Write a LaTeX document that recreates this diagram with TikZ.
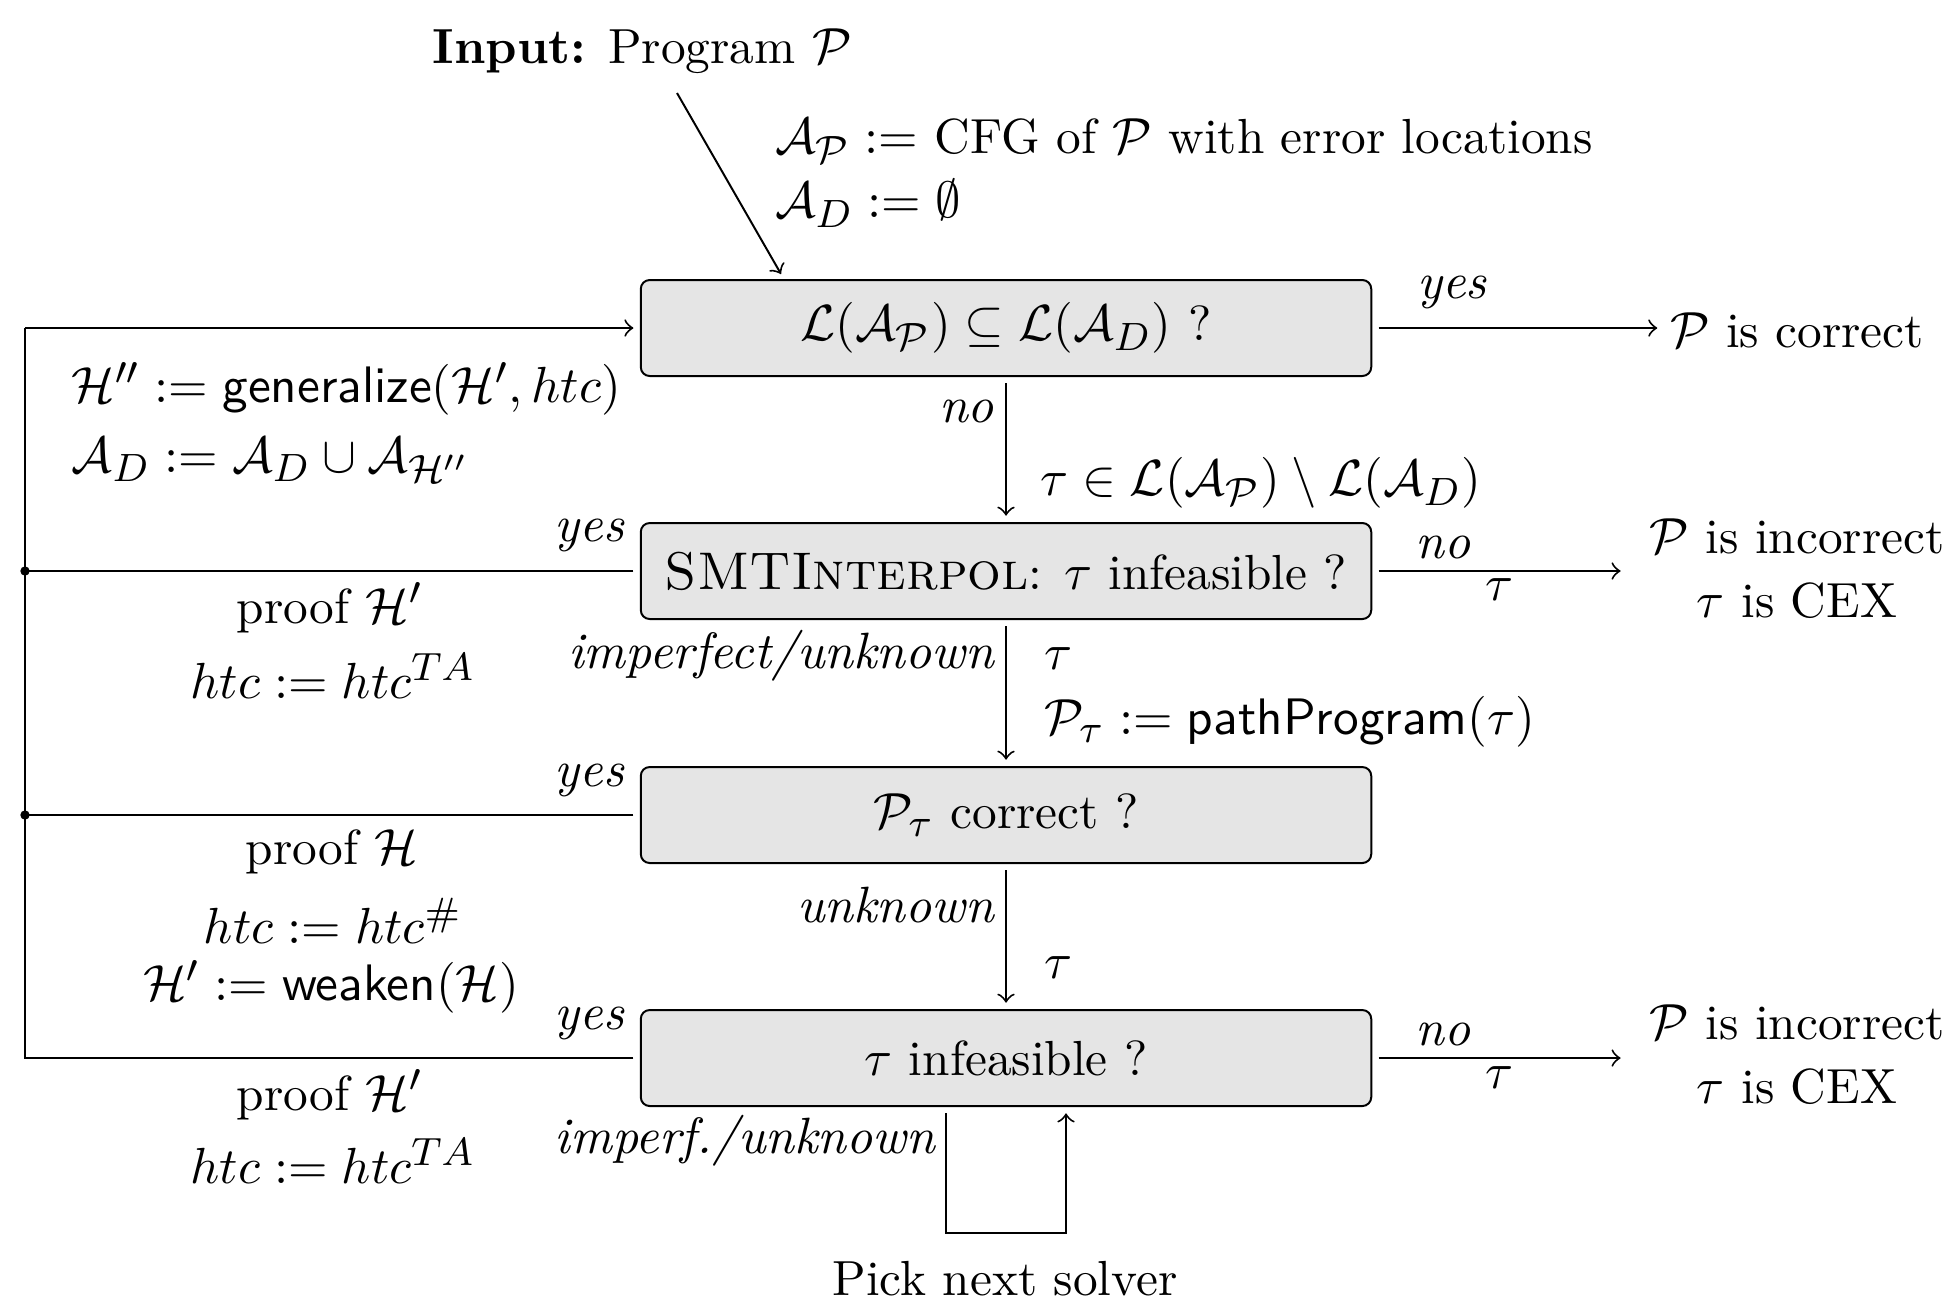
\RequirePackage{fix-cm}
\documentclass[tikz,border=0pt]{standalone}
\DeclareMathSizes{10}{10.3}{8}{6}
\newcommand{\sfop}[1]{\textsf{\fontsize{10.4}{13}\selectfont #1}}
\newcommand{\lbl}[1]{{\fontsize{10.35}{13}\selectfont\itshape #1}}
\newcommand{\scname}[1]{{\fontsize{10.75}{13}\selectfont\scshape #1}}
\begin{document}
\begin{tikzpicture}[x=0.00712cm,y=-0.00712cm,
  every node/.style={font=\fontsize{10}{13}\selectfont, inner sep=0pt},
  box/.style={draw, fill=gray!20, rounded corners=1.8pt, minimum width=5.205cm, minimum height=0.684cm, outer sep=1.5pt},
  line width=0.4pt, >=to]
\useasboundingbox (0,0) rectangle (1951,1308);
% boxes
\node[box] (b1) at (1006,328) {$\mathcal{L}(\mathcal{A}_{\mathcal{P}}) \subseteq \mathcal{L}(\mathcal{A}_D)$ ?};
\node[box] (b2) at (1006,571) {\scname{SMTInterpol}: $\tau$ infeasible ?};
\node[box] (b3) at (1006,815) {$\mathcal{P}_\tau$ correct ?};
\node[box] (b4) at (1006,1058) {$\tau$ infeasible ?};
% input
\node (in) at (642,51) {\textbf{Input:} Program $\mathcal{P}$};
\coordinate (in1) at (677,93);
\coordinate (in2) at (781,274);
\draw[->] (in1) -- (in2);
\node[anchor=west, align=left] (init) at (774,173) {$\mathcal{A}_{\mathcal{P}} :=$ CFG of $\mathcal{P}$ with error locations\\ $\mathcal{A}_D := \emptyset$};
% right outcomes
\node[inner xsep=0.085cm] (corr) at (1797,330) {$\mathcal{P}$ is correct};
\node[align=center, inner xsep=0.2cm] (inc1) at (1797,569) {$\mathcal{P}$ is incorrect\\$\tau$ is CEX};
\node[align=center, inner xsep=0.2cm] (inc2) at (1797,1055) {$\mathcal{P}$ is incorrect\\$\tau$ is CEX};
\draw[->] (b1.east) -- (b1.east -| corr.west);
\draw[->] (b2.east) -- (b2.east -| inc1.west);
\draw[->] (b4.east) -- (b4.east -| inc2.west);
\node (y1) at (1452,292) {\lbl{yes}};
\node (n2) at (1443,547) {\lbl{no}};
\node (t2) at (1499,590) {$\tau$};
\node (n4) at (1443,1034) {\lbl{no}};
\node (t4) at (1499,1078) {$\tau$};
% vertical flow
\draw[->] (b1.south) -- (b2.north);
\draw[->] (b2.south) -- (b3.north);
\draw[->] (b3.south) -- (b4.north);
\node[anchor=east] (no1) at (995,411) {\lbl{no}};
\node[anchor=west] (tin) at (1039,483) {$\tau \in \mathcal{L}(\mathcal{A}_{\mathcal{P}}) \setminus \mathcal{L}(\mathcal{A}_D)$};
\node[anchor=east] (imp) at (995,656) {\lbl{imperfect/unknown}};
\node[anchor=west] (t23) at (1043,659) {$\tau$};
\node[anchor=west] (pp) at (1043,722) {$\mathcal{P}_\tau := \sfop{pathProgram}(\tau)$};
\node[anchor=east] (unk) at (995,905) {\lbl{unknown}};
\node[anchor=west] (t34) at (1043,968) {$\tau$};
% loop
\coordinate (lpA) at (946,1233);
\coordinate (lpB) at (1066,1233);
\draw[->] (b4.south -| lpA) -- (lpA) -- (lpB) -- (b4.south -| lpB);
\node[anchor=east] (impf) at (936,1141) {\lbl{imperf./unknown}};
\node (pick) at (1005,1279) {Pick next solver};
% left feedback
\coordinate (L1) at (25,328);
\coordinate (L2) at (25,571);
\coordinate (L3) at (25,815);
\coordinate (L4) at (25,1058);
\draw[->] (L1) -- (b1.west);
\draw (b2.west) -- (L2);
\draw (b3.west) -- (L3);
\draw (b4.west) -- (L4) -- (L1);
\fill (L2) circle (0.95pt);
\fill (L3) circle (0.95pt);
\node[anchor=east] (y2) at (625,535) {\lbl{yes}};
\node[anchor=east] (y3) at (625,780) {\lbl{yes}};
\node[anchor=east] (y4) at (625,1023) {\lbl{yes}};
\node[anchor=west] (gen) at (71,389) {$\mathcal{H}'' := \sfop{generalize}(\mathcal{H}', htc)$};
\node[anchor=west] (ad) at (71,460) {$\mathcal{A}_D := \mathcal{A}_D \cup \mathcal{A}_{\mathcal{H}''}$};
\node (pf2) at (330,608) {proof $\mathcal{H}'$};
\node (htc2) at (333,676) {$htc := htc^{TA}$};
\node (pf3) at (332,852) {proof $\mathcal{H}$};
\node (htc3) at (333,921) {$htc := htc^{\#}$};
\node (wk) at (331,987) {$\mathcal{H}' := \sfop{weaken}(\mathcal{H})$};
\node (pf4) at (330,1095) {proof $\mathcal{H}'$};
\node (htc4) at (333,1161) {$htc := htc^{TA}$};
\end{tikzpicture}
\end{document}
